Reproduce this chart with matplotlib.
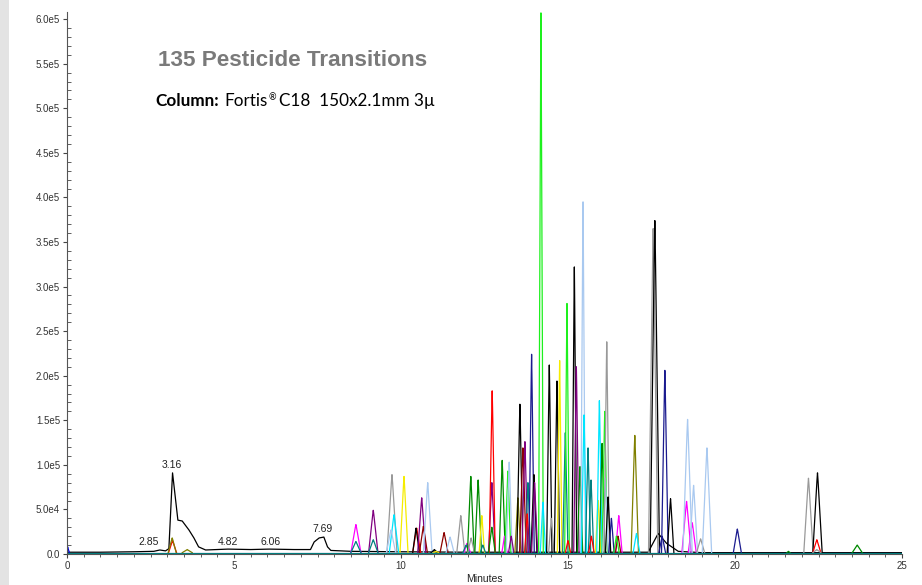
import numpy as np
import matplotlib
matplotlib.use("Agg")
import matplotlib.pyplot as plt
from matplotlib.patches import Rectangle
from matplotlib.ticker import MultipleLocator, FixedLocator

# peak table: retention time (min), height (counts),
# half base width (min), channel
rt = [0.02, 3.16, 3.15, 3.60,
      8.65, 8.65, 9.17, 9.17, 9.73, 9.79, 9.70, 10.09,
      10.47, 10.45, 10.62, 10.67, 10.80, 11.00, 11.05, 11.29, 11.47, 11.79,
      11.98, 11.95, 12.09, 12.10, 12.31, 12.42, 12.45, 12.72, 12.73, 12.72,
      13.03, 13.10, 13.20, 13.24, 13.30, 13.50, 13.56, 13.65, 13.71, 13.80,
      13.78, 13.91, 13.98, 14.00, 14.19, 14.25, 14.44, 14.50, 14.67, 14.75,
      14.92, 14.97, 15.00, 15.19, 15.25, 15.36, 15.45, 15.48, 15.60, 15.69,
      15.70, 15.90, 15.94, 16.02, 16.10, 16.12, 16.16, 16.20, 16.30, 16.52,
      16.50, 16.45, 17.00, 17.05, 17.55, 17.60, 17.82, 17.90, 18.07, 18.55,
      18.72, 18.58, 18.76, 18.97, 19.16, 20.07, 21.60, 22.20, 22.47, 22.45,
      22.45, 23.66]
height = [8e3, 1.5e4, 1.8e4, 5e3,
          3.3e4, 1.4e4, 4.9e4, 1.6e4, 8.9e4, 4.4e4, 2.7e4, 8.7e4,
          2.9e4, 2.9e4, 6.3e4, 3.1e4, 8.0e4, 5e3, 3e3, 2.4e4, 1.9e4, 4.3e4,
          1.2e4, 1.0e4, 8.7e4, 1.8e4, 8.3e4, 4.3e4, 1.0e4, 8.0e4, 1.83e5, 3.0e4,
          1.05e5, 2.0e4, 9.3e4, 1.03e5, 2.0e4, 6.3e4, 1.68e5, 1.19e5, 1.26e5, 8.0e4,
          4.5e4, 2.24e5, 8.9e4, 8.0e4, 6.07e5, 5.8e4, 2.12e5, 4.0e4, 1.94e5, 2.17e5,
          1.36e5, 2.81e5, 1.5e4, 3.22e5, 2.1e5, 9.8e4, 3.95e5, 1.56e5, 1.19e5, 8.3e4,
          2.0e4, 6.0e4, 1.72e5, 1.24e5, 1.6e5, 8.5e4, 2.38e5, 6.4e4, 4.0e4, 4.3e4,
          2.0e4, 2.0e4, 1.33e5, 2.3e4, 3.65e5, 3.74e5, 2.0e4, 2.06e5, 6.2e4, 5.9e4,
          3.5e4, 1.51e5, 7.7e4, 1.7e4, 1.19e5, 2.8e4, 3e3, 8.5e4, 9.1e4, 1.6e4,
          5e3, 1.0e4]
halfw = [0.05, 0.12, 0.12, 0.15,
         0.15, 0.15, 0.14, 0.14, 0.15, 0.14, 0.14, 0.12,
         0.12, 0.10, 0.12, 0.12, 0.13, 0.10, 0.08, 0.12, 0.12, 0.12,
         0.10, 0.10, 0.10, 0.10, 0.10, 0.08, 0.08, 0.10, 0.09, 0.10,
         0.09, 0.08, 0.09, 0.09, 0.08, 0.09, 0.09, 0.10, 0.09, 0.08,
         0.08, 0.08, 0.09, 0.09, 0.07, 0.08, 0.08, 0.08, 0.08, 0.07,
         0.08, 0.07, 0.08, 0.07, 0.08, 0.08, 0.07, 0.08, 0.08, 0.08,
         0.08, 0.08, 0.08, 0.08, 0.08, 0.08, 0.08, 0.08, 0.08, 0.10,
         0.08, 0.08, 0.11, 0.10, 0.14, 0.14, 0.10, 0.10, 0.10, 0.14,
         0.12, 0.14, 0.12, 0.12, 0.14, 0.12, 0.05, 0.14, 0.14, 0.12,
         0.12, 0.15]
channel = ['bl', 'rd', 'ol', 'ol',
           'mg', 'tl', 'pu', 'tl', 'gy', 'cy', 'lb', 'yl',
           'rd', 'k', 'pu', 'dr', 'lb', 'k', 'yl', 'dr', 'lb', 'gy',
           'mg', 'tl', 'dg', 'gy', 'dg', 'yl', 'tl', 'pu', 'rd', 'dg',
           'dg', 'mg', 'lg', 'lb', 'pu', 'ol', 'k', 'dr', 'pu', 'tl',
           'rd', 'nv', 'k', 'pu', 'lg', 'cy', 'k', 'gy', 'k', 'yl',
           'tl', 'lg', 'rd', 'k', 'pu', 'dg', 'lb', 'cy', 'tl', 'tl',
           'rd', 'yl', 'cy', 'dg', 'lg', 'lb', 'gy', 'k', 'nv', 'mg',
           'dr', 'lg', 'ol', 'cy', 'gy', 'k', 'nv', 'nv', 'k', 'mg',
           'mg', 'lb', 'lb', 'gy', 'lb', 'nv', 'dg', 'gy', 'k', 'rd',
           'gy', 'dg']

# black total trace (time, counts)
tic_t = [0.0, 1.0, 2.0, 2.6, 2.78, 2.95, 3.05, 3.16, 3.32, 3.45, 3.65, 3.80,
         3.94, 4.15, 4.82, 5.5, 6.06, 6.8, 7.29, 7.40, 7.55, 7.69, 7.80, 7.90,
         8.5, 10.0, 12.0, 16.0, 17.4, 17.70, 17.95, 18.30, 19.0, 25.0]
tic_y = [2.0e3, 2.0e3, 2.5e3, 3.0e3, 4.5e3, 3.5e3, 6.0e3, 9.1e4, 3.8e4, 3.7e4, 2.7e4, 1.8e4,
         8.0e3, 4.5e3, 5.5e3, 5.0e3, 5.5e3, 5.0e3, 5.0e3, 1.35e4, 1.8e4, 1.9e4, 8.0e3, 4.0e3,
         3.0e3, 2.5e3, 2.0e3, 2.0e3, 2.0e3, 2.3e4, 1.2e4, 3.0e3, 1.5e3, 1.5e3]

# flat baselines of the other channels
base_ch = ['nv', 'tl']
base_y = [1.0e3, 1.5e3]

label_txt = ['2.85', '3.16', '4.82', '6.06', '7.69']
label_x = [2.75, 3.14, 4.82, 6.08, 7.66]
label_y = [8.0e3, 9.4e4, 8.0e3, 8.0e3, 2.2e4]
label_ha = ['right', 'center', 'center', 'center', 'center']

colors = {'k': '#000000', 'gy': '#999999', 'lb': '#a9c9f0', 'lg': '#1ef01e',
          'dg': '#008a00', 'nv': '#1b1b8f', 'pu': '#800080', 'mg': '#ff00ff',
          'cy': '#00e5ff', 'tl': '#008080', 'yl': '#f5ec00', 'ol': '#808000',
          'rd': '#ff0000', 'dr': '#8b0000', 'bl': '#0000dd'}

W, H = 922, 585
fig = plt.figure(figsize=(W / 100, H / 100), dpi=100)
fig.patches.append(Rectangle((0, 0), 9 / W, 1, transform=fig.transFigure,
                             facecolor='#e3e3e3', edgecolor='none', zorder=0))

ax = fig.add_axes([67 / W, 31 / H, 835 / W, 542 / H])
ax.set_xlim(0, 25)
ax.set_ylim(0, 6.08e5)

ax.plot(tic_t, tic_y, color='black', lw=0.9)
for t, h, w, c in zip(rt, height, halfw, channel):
    ax.plot([t - w, t - 0.12 * w, t, t + 0.12 * w, t + w],
            [1.5e3, 0.9 * h, h, 0.9 * h, 1.5e3], color=colors[c], lw=0.9)
for c, b in zip(base_ch, base_y):
    ax.plot([0, 25], [b, b], color=colors[c], lw=0.8)

for s, x, y, ha in zip(label_txt, label_x, label_y, label_ha):
    ax.text(x, y, s, ha=ha, va='bottom', fontsize=7.5, family='Liberation Sans',
            color='#222222')

for sp in ['top', 'right']:
    ax.spines[sp].set_visible(False)
ax.spines['left'].set_color('#555555')
ax.spines['bottom'].set_color('#555555')

yt = np.arange(0, 6.01e5, 5e4)
ax.yaxis.set_major_locator(FixedLocator(yt))
ax.set_yticklabels(['0.0', '5.0e4'] + ['%.1fe5' % (v / 1e5) for v in yt[2:]])
ax.yaxis.set_minor_locator(MultipleLocator(1e4))
ax.xaxis.set_major_locator(MultipleLocator(5))
ax.xaxis.set_minor_locator(MultipleLocator(0.5))
ax.tick_params(axis='both', which='major', length=3, width=0.8, color='#444444',
               labelsize=7, labelcolor='#333333', pad=2)
ax.tick_params(axis='y', which='minor', direction='in', length=3, width=0.6, color='#444444')
ax.tick_params(axis='x', which='minor', direction='out', length=2, width=0.6, color='#444444')
for lab in ax.get_xticklabels() + ax.get_yticklabels():
    lab.set_family('Liberation Sans')
ax.set_xlabel('Minutes', fontsize=7.5, family='Liberation Sans', color='#222222', labelpad=2)

fig.text(158 / W, 1 - 61 / H, '135 Pesticide Transitions', fontsize=16.2,
         family='Liberation Sans', weight='bold', color='#7a7a7a', va='center', ha='left')

# "Column: Fortis® C18 ..." line, pieces placed one after the other
yb = 1 - 106 / H
t1 = fig.text(155 / W, yb, 'Column:', fontsize=12.3, family='Lato',
              weight='bold', color='black', va='baseline', ha='left')
fig.canvas.draw()
x = t1.get_window_extent().x1 + 6
t2 = fig.text(x / W, yb, 'Fortis', fontsize=12.3, family='Lato', color='black',
              va='baseline', ha='left')
fig.canvas.draw()
x = t2.get_window_extent().x1 + 0.5
t3 = fig.text(x / W, yb + 6 / H, '\u00ae', fontsize=6.5, family='Lato', color='black',
              va='baseline', ha='left')
fig.canvas.draw()
x = t3.get_window_extent().x1 + 3
fig.text(x / W, yb, 'C18  150x2.1mm 3\u00b5', fontsize=12.3, family='Lato',
         color='black', va='baseline', ha='left')

fig.savefig('out.png', dpi=100)
